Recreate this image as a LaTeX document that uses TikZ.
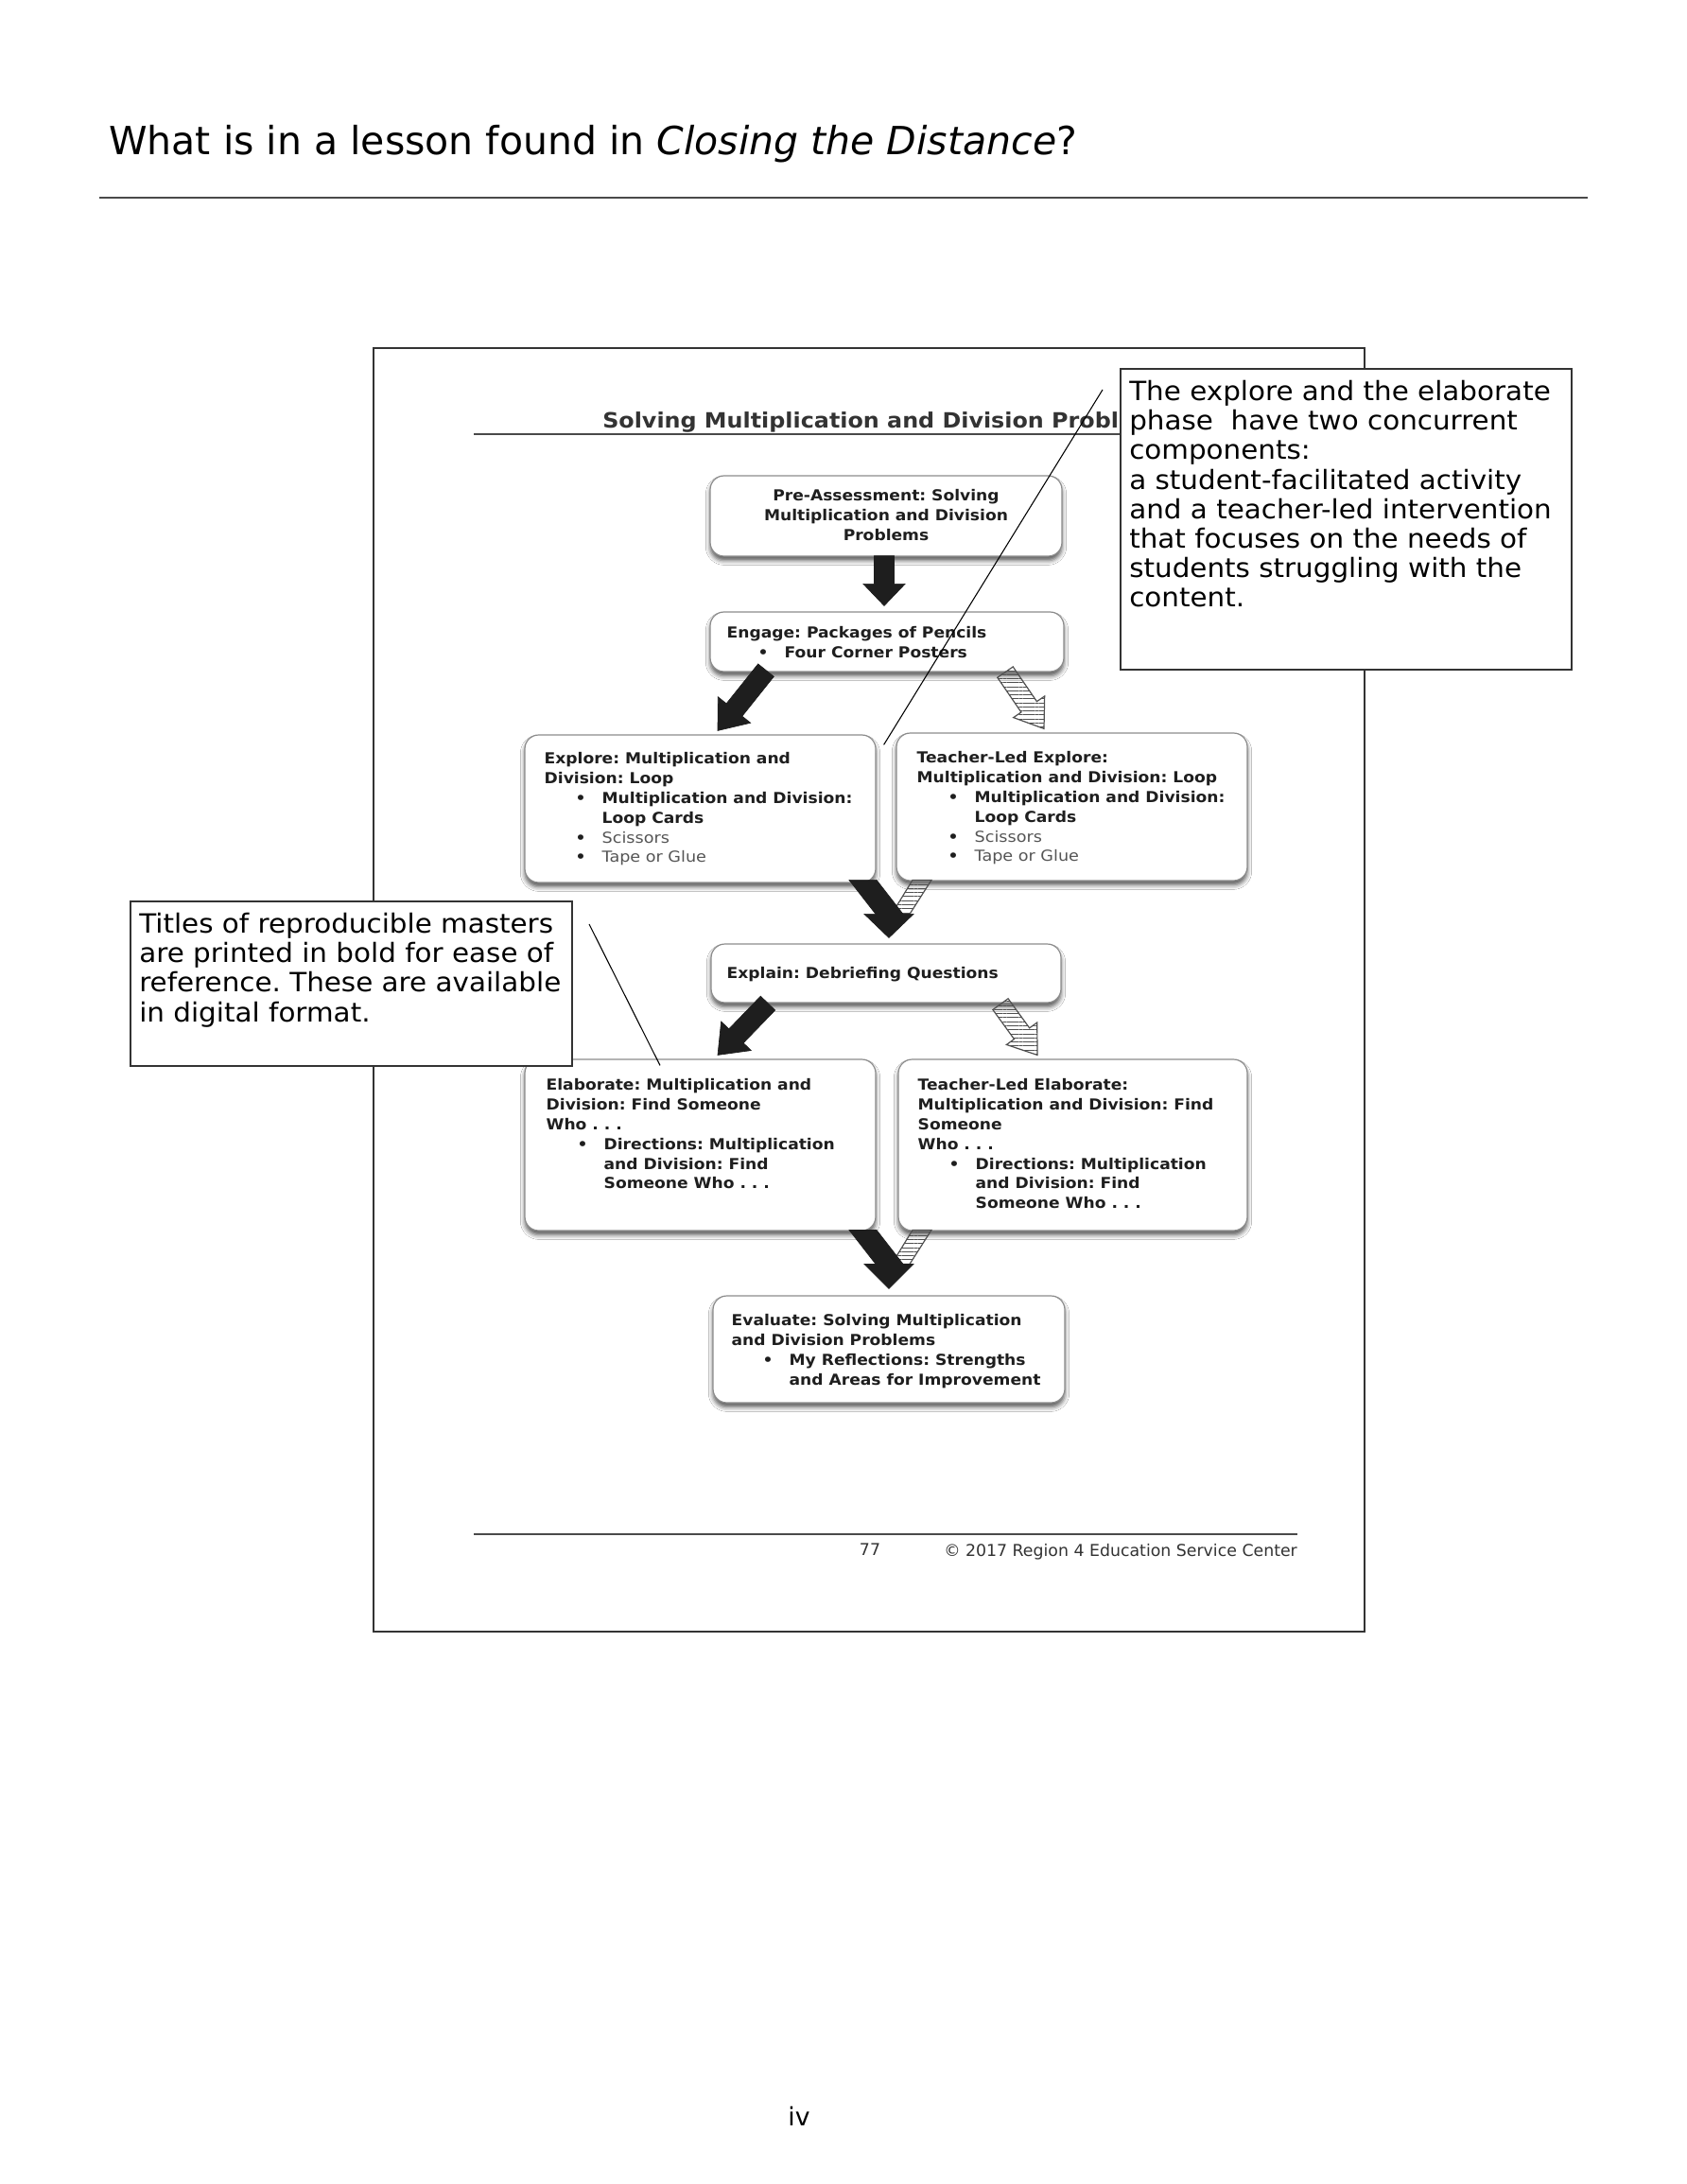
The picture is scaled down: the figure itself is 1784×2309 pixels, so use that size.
\documentclass[tikz,border=0pt]{standalone}
\usepackage{fontspec}
\setmainfont{DejaVu Sans}[ItalicFont={DejaVu Sans Oblique},BoldFont={DejaVu Sans Bold}]
\newfontfamily\boxfam{DejaVu Sans}[FakeStretch=1.07,BoldFont={DejaVu Sans Bold}]
\newfontfamily\grfam{DejaVu Sans}[FakeStretch=1.1]
\newfontfamily\calfam{DejaVu Sans}[FakeStretch=1.05]
\usetikzlibrary{calc,shadows.blur,patterns.meta}
\definecolor{ink}{HTML}{1E1E1E}
\definecolor{boxline}{HTML}{8C8C8C}
\definecolor{softgray}{HTML}{555555}
\definecolor{calline}{HTML}{333333}
\definecolor{hatchline}{HTML}{505050}
\definecolor{rulegray}{HTML}{4A4A4A}
\newcommand\bitem[1]{\hspace*{24.75pt}\makebox[21pt][l]{•}#1}
\newcommand\bcont[1]{\hspace*{45.75pt}#1}
\newcommand\gr[1]{{\grfam\mdseries\color{softgray}#1}}
\newcommand\blockarrow[6]{%
  \coordinate (bah) at ($(#2)!#5!(#1)$);
  \draw[#3] ($(#1)!#4!90:(#2)$) -- ($(bah)!#4!-90:(#1)$) -- ($(bah)!#6!-90:(#1)$) -- (#2)
     -- ($(bah)!#6!90:(#1)$) -- ($(bah)!#4!90:(#1)$) -- ($(#1)!#4!-90:(#2)$) -- cycle;}
\begin{document}
\frenchspacing
\begin{tikzpicture}[x=0.75pt,y=-0.75pt,
  flowbox/.style={draw=boxline, line width=0.9pt, fill=white, rounded corners=11pt, inner sep=0pt,
    blur shadow={shadow xshift=0pt, shadow yshift=-3.5pt, shadow blur radius=3.5pt, shadow opacity=65}},
  boxtext/.style={anchor=north west, inner sep=0pt, align=left, text=ink, font=\boxfam\fontsize{12}{15.6}\selectfont\bfseries},
  calloutbox/.style={draw=calline, line width=1.5pt, fill=white, inner sep=0pt},
  callouttext/.style={anchor=north west, inner sep=0pt, align=left, font=\calfam\fontsize{21}{23.4}\selectfont},
  solidarrow/.style={fill=ink, draw=ink, line width=0.5pt},
  hatcharrow/.style={draw=hatchline, line width=0.9pt, pattern={Lines[angle=0,distance=3.2pt,line width=0.7pt]}, pattern color=hatchline},
  leader/.style={draw=black, line width=0.8pt}
]
\useasboundingbox (0,0) rectangle (1784,2309);
\fill[white] (0,0) rectangle (1784,2309);

% page title and rule
\node[anchor=base west, inner sep=0pt, font=\fontsize{30.75}{36}\selectfont] (title) at (115,163)
  {What is in a lesson found in \textit{Closing the Distance}?};
\coordinate (trL) at (105,209);
\coordinate (trR) at (1679,209);
\draw[rulegray, line width=1.6pt] (trL) -- (trR);

% reproduced page frame
\draw[calline, line width=1.2pt] (395,368) rectangle (1443,1725);

% inner heading
\node[anchor=base west, inner sep=0pt, text=calline, font=\boxfam\fontsize{16.7}{21}\selectfont\bfseries] (head) at (637,452)
  {Solving Multiplication and Division Problems};
\coordinate (hrL) at (501,459);
\coordinate (hrR) at (1372,459);
\draw[rulegray, line width=1.1pt] (hrL) -- (hrR);

% flow boxes
\node[flowbox, minimum width=279pt, minimum height=63.75pt] (pre) at (937,545.5) {};
\node[flowbox, minimum width=280.5pt, minimum height=47.25pt] (engage) at (938,678.5) {};
\node[flowbox, minimum width=278.25pt, minimum height=117pt] (explore) at (740.5,855) {};
\node[flowbox, minimum width=278.25pt, minimum height=117pt] (texplore) at (1133.5,853) {};
\node[flowbox, minimum width=277.5pt, minimum height=46.5pt] (explain) at (937,1029) {};
\node[flowbox, minimum width=278.25pt, minimum height=135.75pt] (elab) at (740.5,1210.5) {};
\node[flowbox, minimum width=276.75pt, minimum height=135.75pt] (telab) at (1134.5,1210.5) {};
\node[flowbox, minimum width=279pt, minimum height=84.75pt] (evaluate) at (940,1426.5) {};

% box texts
\node[boxtext, anchor=north, align=center] (pretext) at ($(pre.north)+(0,15)$)
  {Pre-Assessment: Solving\\Multiplication and Division\\Problems};
\node[boxtext] (engagetext) at ($(engage.north west)+(18,16)$)
  {Engage: Packages of Pencils\\\bitem{Four Corner Posters}};
\node[boxtext] (exploretext) at ($(explore.north west)+(21,19)$)
  {Explore: Multiplication and\\Division: Loop\\\bitem{Multiplication and Division:}\\\bcont{Loop Cards}\\\bitem{\gr{Scissors}}\\\bitem{\gr{Tape or Glue}}};
\node[boxtext] (texploretext) at ($(texplore.north west)+(22,20)$)
  {Teacher-Led Explore:\\Multiplication and Division: Loop\\\bitem{Multiplication and Division:}\\\bcont{Loop Cards}\\\bitem{\gr{Scissors}}\\\bitem{\gr{Tape or Glue}}};
\node[boxtext, anchor=base west] (explaintext) at ($(explain.north west)+(17,37)$)
  {Explain: Debriefing Questions};
\node[boxtext] (elabtext) at ($(elab.north west)+(23,21)$)
  {Elaborate: Multiplication and\\Division: Find Someone\\Who . . .\\\bitem{Directions: Multiplication}\\\bcont{and Division: Find}\\\bcont{Someone Who . . .}};
\node[boxtext] (telabtext) at ($(telab.north west)+(21,21)$)
  {Teacher-Led Elaborate:\\Multiplication and Division: Find\\Someone\\Who . . .\\\bitem{Directions: Multiplication}\\\bcont{and Division: Find}\\\bcont{Someone Who . . .}};
\node[boxtext] (evaltext) at ($(evaluate.north west)+(20,20)$)
  {Evaluate: Solving Multiplication\\and Division Problems\\\bitem{My Reflections: Strengths}\\\bcont{and Areas for Improvement}};

% block arrows
\coordinate (a0s) at ($(pre.south)+(-2,-1)$);
\coordinate (a0t) at ($(engage.north)+(-3,-6)$);
\blockarrow{a0s}{a0t}{solidarrow}{7.9pt}{17.25pt}{16.5pt}
\coordinate (a1s) at ($(engage.south)+(-128,-2)$);
\coordinate (a1t) at ($(explore.north)+(18.5,-4)$);
\blockarrow{a1s}{a1t}{solidarrow}{8pt}{21pt}{16.5pt}
\coordinate (a2s) at ($(engage.south)+(125,0)$);
\coordinate (a2t) at ($(texplore.north)+(-29.5,-4)$);
\blockarrow{a2s}{a2t}{hatcharrow}{7.5pt}{21pt}{15pt}
\coordinate (a3s) at ($(explain.south)+(-125,0)$);
\coordinate (a3t) at ($(elab.north)+(18.5,-4)$);
\blockarrow{a3s}{a3t}{solidarrow}{8pt}{21pt}{16.5pt}
\coordinate (a4s) at ($(explain.south)+(121,1)$);
\coordinate (a4t) at ($(telab.north)+(-37.5,-4)$);
\blockarrow{a4s}{a4t}{hatcharrow}{7.5pt}{21pt}{15pt}

% merging arrows
\coordinate (m1) at ($(explain.north)+(3,-6)$);
\begin{scope}[shift={(m1)}]
  \draw[hatcharrow] (25,-61) -- (45,-61) -- (22,-25) -- (3,-25) -- cycle;
  \draw[solidarrow] (-42,-61) -- (-13,-61) -- (15,-25) -- (26,-25) -- (0,0) -- (-26,-25) -- (-14,-25) -- cycle;
\end{scope}
\coordinate (m2) at ($(evaluate.north)+(0,-7)$);
\begin{scope}[shift={(m2)}]
  \draw[hatcharrow] (25,-62) -- (45,-62) -- (22,-26) -- (3,-26) -- cycle;
  \draw[solidarrow] (-42,-62) -- (-13,-62) -- (15,-26) -- (26,-26) -- (0,0) -- (-26,-26) -- (-14,-26) -- cycle;
\end{scope}

% footer of reproduced page
\coordinate (frL) at (501,1622);
\coordinate (frR) at (1372,1622);
\draw[rulegray, line width=1.4pt] (frL) -- (frR);
\node[anchor=base, inner sep=0pt, text=calline, font=\fontsize{13}{16}\selectfont] (pgno) at (920,1644) {77};
\node[anchor=base west, inner sep=0pt, text=calline, font=\fontsize{13}{16}\selectfont] (copy) at (998,1645)
  {© 2017 Region 4 Education Service Center};

% callouts
\node[calloutbox, minimum width=357.75pt, minimum height=238.5pt] (callR) at (1423.5,549) {};
\node[callouttext] (callRtext) at ($(callR.north west)+(10,13)$)
  {The explore and the elaborate\\phase~ have two concurrent\\components:\\a student-facilitated activity\\and a teacher-led intervention\\that focuses on the needs of\\students struggling with the\\content.};
\node[calloutbox, minimum width=350.25pt, minimum height=130.5pt] (callL) at (371.5,1040) {};
\node[callouttext] (callLtext) at ($(callL.north west)+(10,13)$)
  {Titles of reproducible masters\\are printed in bold for ease of\\reference. These are available\\in digital format.};

% leader lines
\coordinate (lr1) at ($(callR.north west)+(-18,23)$);
\coordinate (lr2) at ($(explore.north east)+(8,11)$);
\draw[leader] (lr1) -- (lr2);
\coordinate (ll1) at ($(callL.north east)+(17,25)$);
\coordinate (ll2) at ($(elab.north)+(-42.5,7)$);
\draw[leader] (ll1) -- (ll2);

% page number
\node[anchor=base, inner sep=0pt, font=\fontsize{20}{24}\selectfont] (pageiv) at (845,2247) {iv};
\end{tikzpicture}
\end{document}
